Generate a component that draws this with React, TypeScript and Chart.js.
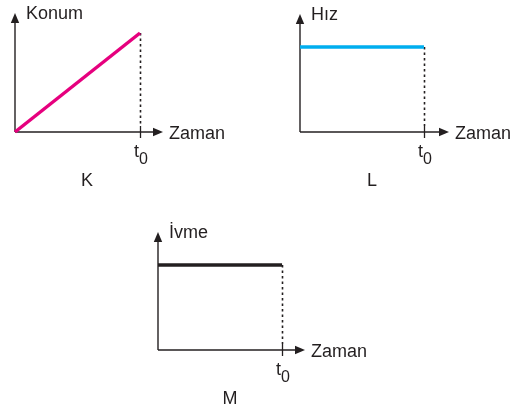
import React, { useEffect, useRef } from "react";
import { Chart, registerables } from "chart.js";

Chart.register(...registerables);

// ---- data ----
const timeValues = [0, 1]; // t = 0 and t = t0
const konumValues = [0, 1];
const hizValues = [1, 1];
const ivmeValues = [1, 1];
const yTitles = ["Konum", "Hız", "İvme"];
const xTitle = "Zaman";
const tickMain = "t";
const tickSub = "0";
const panelNames = ["K", "L", "M"];
const lineColors = ["#E6007E", "#00AEEF", "#231F20"];

const W = 523;
const H = 410;
const INK = "#231F20";
const FONT = "18px 'Liberation Sans', Arial, Helvetica, sans-serif";
const SUBFONT = "16px 'Liberation Sans', Arial, Helvetica, sans-serif";

// layout (page pixels): origin, arrow tips, and axis extents in data units
const layouts = [
  { left: 15, bottom: 132, top: 13, right: 163, xMax: 1.184, yMax: 1.202 },
  { left: 300, bottom: 132, top: 14, right: 449, xMax: 1.202, yMax: 1.388 },
  { left: 158, bottom: 350, top: 232, right: 305, xMax: 1.185, yMax: 1.388 },
];

const seriesList = [konumValues, hizValues, ivmeValues];

function makePlugin(idx: number) {
  return {
    id: "axesDecor" + idx,
    beforeDatasetsDraw(chart: any) {
      const ctx = chart.ctx as CanvasRenderingContext2D;
      const a = chart.chartArea;
      const xs = chart.scales.x;
      const ys = chart.scales.y;
      const ox = a.left;
      const oy = a.bottom;
      ctx.save();
      ctx.strokeStyle = INK;
      ctx.fillStyle = INK;
      ctx.lineWidth = 1.4;
      // y axis
      ctx.beginPath();
      ctx.moveTo(ox, oy);
      ctx.lineTo(ox, a.top + 8);
      ctx.stroke();
      ctx.beginPath();
      ctx.moveTo(ox, a.top);
      ctx.lineTo(ox - 4.2, a.top + 10);
      ctx.lineTo(ox + 4.2, a.top + 10);
      ctx.closePath();
      ctx.fill();
      // x axis
      ctx.beginPath();
      ctx.moveTo(ox, oy);
      ctx.lineTo(a.right - 8, oy);
      ctx.stroke();
      ctx.beginPath();
      ctx.moveTo(a.right, oy);
      ctx.lineTo(a.right - 10, oy - 4.2);
      ctx.lineTo(a.right - 10, oy + 4.2);
      ctx.closePath();
      ctx.fill();
      // t0 tick and dashed guide
      const vals = seriesList[idx];
      const t0 = timeValues[timeValues.length - 1];
      const px = Math.round(xs.getPixelForValue(t0)) + 0.5;
      const py = ys.getPixelForValue(vals[vals.length - 1]);
      ctx.lineWidth = 1.3;
      ctx.beginPath();
      ctx.moveTo(px, oy - 6);
      ctx.lineTo(px, oy + 6);
      ctx.stroke();
      ctx.lineWidth = 1.6;
      ctx.setLineDash([2.5, 3]);
      ctx.beginPath();
      ctx.moveTo(px, py);
      ctx.lineTo(px, oy - 6);
      ctx.stroke();
      ctx.setLineDash([]);
      // texts
      ctx.font = FONT;
      ctx.textBaseline = "alphabetic";
      ctx.textAlign = "left";
      ctx.fillText(yTitles[idx], ox + 11, a.top + 6);
      ctx.fillText(xTitle, a.right + 6, oy + 7);
      ctx.fillText(tickMain, px - 6.5, oy + 25);
      ctx.font = SUBFONT;
      ctx.fillText(tickSub, px - 1.5, oy + 32);
      ctx.font = FONT;
      ctx.textAlign = "center";
      ctx.fillText(panelNames[idx], ox + 72, oy + 54);
      ctx.restore();
    },
  };
}

function Panel({ idx }: { idx: number }) {
  const ref = useRef<HTMLCanvasElement | null>(null);
  useEffect(() => {
    const L = layouts[idx];
    const vals = seriesList[idx];
    const chart = new Chart(ref.current as HTMLCanvasElement, {
      type: "line",
      data: {
        datasets: [
          {
            data: timeValues.map((t, i) => ({ x: t, y: vals[i] })),
            borderColor: lineColors[idx],
            borderWidth: 3.5,
            borderCapStyle: "butt",
            pointRadius: 0,
            tension: 0,
            clip: false as any,
          },
        ],
      },
      options: {
        animation: false,
        responsive: false,
        maintainAspectRatio: false,
        devicePixelRatio: 1,
        layout: {
          padding: {
            left: L.left,
            top: L.top,
            right: W - L.right,
            bottom: H - L.bottom,
          },
        },
        scales: {
          x: { type: "linear", min: 0, max: L.xMax, display: false },
          y: { type: "linear", min: 0, max: L.yMax, display: false },
        },
        plugins: {
          legend: { display: false },
          tooltip: { enabled: false },
          title: { display: false },
        },
        events: [],
      },
      plugins: [makePlugin(idx)],
    });
    return () => chart.destroy();
  }, [idx]);
  return (
    <canvas
      ref={ref}
      width={W}
      height={H}
      style={{ position: "absolute", left: 0, top: 0, width: W, height: H }}
    />
  );
}

export default function App() {
  return (
    <div
      style={{
        position: "fixed",
        left: 0,
        top: 0,
        width: W,
        height: H,
        background: "#ffffff",
        overflow: "hidden",
      }}
    >
      <Panel idx={0} />
      <Panel idx={1} />
      <Panel idx={2} />
    </div>
  );
}
